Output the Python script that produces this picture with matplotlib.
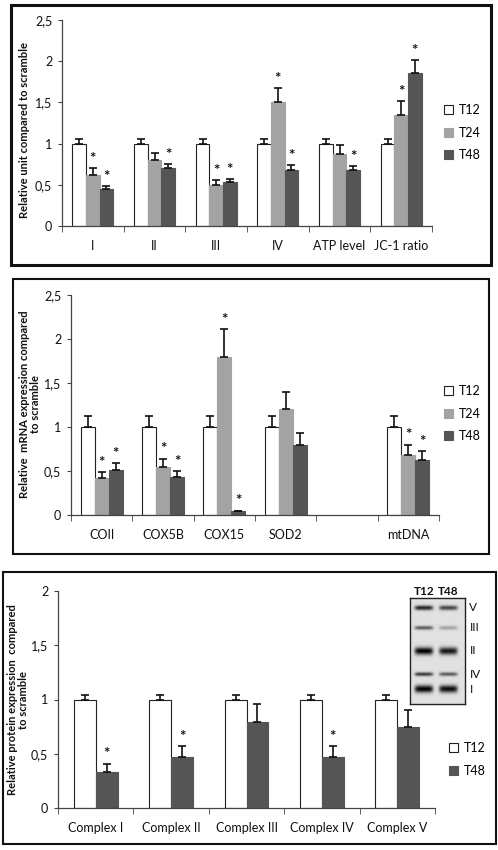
import numpy as np
import matplotlib
matplotlib.use("Agg")
import matplotlib.pyplot as plt
from matplotlib.patches import Rectangle, Patch
from matplotlib.ticker import FuncFormatter

plt.rcParams['font.family'] = ['Lato', 'DejaVu Sans']

W, H = 498, 850

# ---- panel 1 data: enzyme activities ----
p1_cats = ["I", "II", "III", "IV", "ATP level", "JC-1 ratio"]
p1_t12 = [1.0, 1.0, 1.0, 1.0, 1.0, 1.0]
p1_t12_err = [0.05, 0.05, 0.05, 0.05, 0.05, 0.05]
p1_t24 = [0.62, 0.80, 0.50, 1.50, 0.87, 1.35]
p1_t24_err = [0.08, 0.09, 0.06, 0.18, 0.11, 0.17]
p1_t48 = [0.45, 0.70, 0.53, 0.68, 0.68, 1.86]
p1_t48_err = [0.03, 0.05, 0.04, 0.06, 0.05, 0.15]
p1_t24_sig = [1, 0, 1, 1, 0, 1]
p1_t48_sig = [1, 1, 1, 1, 1, 1]

# ---- panel 2 data: mRNA expression ----
p2_cats = ["COII", "COX5B", "COX15", "SOD2", "", "mtDNA"]
p2_t12 = [1.0, 1.0, 1.0, 1.0, np.nan, 1.0]
p2_t12_err = [0.12, 0.12, 0.12, 0.12, 0, 0.12]
p2_t24 = [0.42, 0.55, 1.80, 1.20, np.nan, 0.68]
p2_t24_err = [0.07, 0.09, 0.31, 0.20, 0, 0.12]
p2_t48 = [0.51, 0.43, 0.04, 0.80, np.nan, 0.62]
p2_t48_err = [0.08, 0.07, 0.01, 0.13, 0, 0.11]
p2_t24_sig = [1, 1, 1, 0, 0, 1]
p2_t48_sig = [1, 1, 1, 0, 0, 1]

# ---- panel 3 data: protein expression ----
p3_cats = ["Complex I", "Complex II", "Complex III", "Complex IV", "Complex V"]
p3_t12 = [1.0, 1.0, 1.0, 1.0, 1.0]
p3_t12_err = [0.04, 0.04, 0.04, 0.04, 0.04]
p3_t48 = [0.33, 0.47, 0.79, 0.47, 0.75]
p3_t48_err = [0.08, 0.10, 0.17, 0.10, 0.15]
p3_t48_sig = [1, 1, 0, 1, 0]

# ---- western blot inset ----
blot_lanes = ["T12", "T48"]
blot_bands = ["V", "III", "II", "IV", "I"]
blot_band_pos = [0.09, 0.28, 0.50, 0.72, 0.86]      # fraction from top
blot_band_thick = [0.022, 0.018, 0.035, 0.018, 0.035]
blot_t12 = [0.85, 0.60, 1.00, 0.75, 1.00]
blot_t48 = [0.70, 0.28, 0.90, 0.60, 0.95]

C_T12 = "white"
C_T24 = "#a3a3a3"
C_T48 = "#555555"
AX_COL = "#444444"
TXT = "#111111"


def px_axes(fig, x0, y0, x1, y1):
    return fig.add_axes([x0 / W, 1 - y1 / H, (x1 - x0) / W, (y1 - y0) / H])


def comma_fmt(v, pos):
    return ("%g" % v).replace(".", ",")


def style_axes(ax, n, ymax, ystep=0.5):
    ax.set_xlim(-0.5, n - 0.5)
    ax.set_ylim(0, ymax)
    for s in ["top", "right"]:
        ax.spines[s].set_visible(False)
    for s in ["left", "bottom"]:
        ax.spines[s].set_color(AX_COL)
        ax.spines[s].set_linewidth(0.9)
    ax.set_yticks(np.arange(0, ymax + 0.001, ystep))
    ax.yaxis.set_major_formatter(FuncFormatter(comma_fmt))
    ax.tick_params(axis="y", length=3, color=AX_COL, labelsize=9, pad=4, labelcolor=TXT)
    ax.set_xticks(np.arange(n))
    ax.set_xticks(np.arange(n + 1) - 0.5, minor=True)
    ax.tick_params(axis="x", which="major", length=0, labelsize=9, pad=10, labelcolor=TXT)
    ax.tick_params(axis="x", which="minor", length=4, color=AX_COL)
    ax.patch.set_alpha(0)


def draw_series(ax, x, vals, errs, color, width, sig=None):
    vals = np.array(vals, dtype=float)
    errs = np.array(errs, dtype=float)
    ec = "#222222" if color == "white" else color
    ax.bar(x, vals, width, color=color, edgecolor=ec, linewidth=0.8, zorder=2)
    ok = ~np.isnan(vals)
    ax.errorbar(x[ok], vals[ok], yerr=[np.zeros(ok.sum()), errs[ok]], fmt="none",
                ecolor="#111111", elinewidth=1.2, capsize=3, capthick=1.2, zorder=3)
    if sig is not None:
        for xi, v, e, s in zip(x, vals, errs, sig):
            if s:
                ax.text(xi, v + e + 0.01 * ax.get_ylim()[1], "*", ha="center", va="bottom",
                        fontsize=11, fontweight="bold", color=TXT)


def panel_box(fig, x0, y0, x1, y1, lw):
    fig.patches.append(Rectangle((x0 / W, 1 - y1 / H), (x1 - x0) / W, (y1 - y0) / H,
                                 transform=fig.transFigure, fill=False,
                                 edgecolor="#111111", linewidth=lw))


def ylabel(fig, text, x, y):
    fig.text(x / W, 1 - y / H, text, rotation=90, ha="center", va="center",
             fontsize=8, fontweight="bold", color=TXT, linespacing=1.0)


def legend(fig, ax, labels, colors, x, y):
    handles = [Patch(facecolor=c, edgecolor="#222222" if c == "white" else c, linewidth=0.8)
               for c in colors]
    ax.legend(handles, labels, loc="upper left", bbox_to_anchor=(x / W, 1 - y / H),
              bbox_transform=fig.transFigure, frameon=False, fontsize=9,
              handlelength=0.75, handleheight=0.75, handletextpad=0.45, labelspacing=0.85,
              borderpad=0, borderaxespad=0)


fig = plt.figure(figsize=(W / 100, H / 100), dpi=100)

# ---------- panel 1 ----------
panel_box(fig, 11, 5, 491, 265, 2.2)
ax1 = px_axes(fig, 62, 20, 432, 226)
style_axes(ax1, len(p1_cats), 2.5)
x = np.arange(len(p1_cats))
bw = 0.22
draw_series(ax1, x - bw, p1_t12, p1_t12_err, C_T12, bw)
draw_series(ax1, x, p1_t24, p1_t24_err, C_T24, bw, p1_t24_sig)
draw_series(ax1, x + bw, p1_t48, p1_t48_err, C_T48, bw, p1_t48_sig)
ax1.set_xticklabels(p1_cats)
ylabel(fig, "Relative unit compared to scramble", 24, 130)
legend(fig, ax1, ["T12", "T24", "T48"], [C_T12, C_T24, C_T48], 444, 104)

# ---------- panel 2 ----------
panel_box(fig, 13, 279, 489, 554, 1.5)
ax2 = px_axes(fig, 71, 295, 439, 515)
style_axes(ax2, len(p2_cats), 2.5)
x = np.arange(len(p2_cats))
bw = 0.23
draw_series(ax2, x - bw, p2_t12, p2_t12_err, C_T12, bw)
draw_series(ax2, x, p2_t24, p2_t24_err, C_T24, bw, p2_t24_sig)
draw_series(ax2, x + bw, p2_t48, p2_t48_err, C_T48, bw, p2_t48_sig)
ax2.set_xticklabels(p2_cats)
ylabel(fig, "Relative  mRNA expression compared\nto scramble", 30, 404)
legend(fig, ax2, ["T12", "T24", "T48"], [C_T12, C_T24, C_T48], 444, 385)

# ---------- panel 3 ----------
panel_box(fig, 3, 572, 496, 844, 1.5)
ax3 = px_axes(fig, 58, 591, 435, 808)
style_axes(ax3, len(p3_cats), 2.0)
x = np.arange(len(p3_cats))
bw = 0.29
draw_series(ax3, x - bw / 2, p3_t12, p3_t12_err, C_T12, bw)
draw_series(ax3, x + bw / 2, p3_t48, p3_t48_err, C_T48, bw, p3_t48_sig)
ax3.set_xticklabels(p3_cats)
ylabel(fig, "Relative protein expression  compared\nto scramble", 18, 700)
legend(fig, ax3, ["T12", "T48"], [C_T12, C_T48], 449, 742)

# ---------- blot inset ----------
axb = px_axes(fig, 410, 598, 465, 704)
nrow, ncol = 160, 80
yy = np.linspace(0, 1, nrow)[:, None]
xx = np.linspace(0, 1, ncol)[None, :]
img = np.full((nrow, ncol), 0.88)
lane_cx = [0.25, 0.70]
for pos, th, a12, a48 in zip(blot_band_pos, blot_band_thick, blot_t12, blot_t48):
    for cx, amp in zip(lane_cx, [a12, a48]):
        prof_x = np.exp(-((xx - cx) / 0.17) ** 6)
        prof_y = np.exp(-((yy - pos) / th) ** 2)
        img -= 0.88 * amp * prof_x * prof_y
img = np.clip(img, 0, 1)
axb.imshow(img, cmap="gray", vmin=0, vmax=1, aspect="auto", extent=[0, 1, 1, 0],
           interpolation="bilinear")
axb.set_xticks([])
axb.set_yticks([])
for s in axb.spines.values():
    s.set_linewidth(1.0)
    s.set_color("#222222")
for cx, lab in zip(lane_cx, blot_lanes):
    axb.text(cx, 1.01, lab, transform=axb.transAxes, ha="center", va="bottom",
             fontsize=8.5, fontweight="bold", color=TXT)
for pos, lab in zip(blot_band_pos, blot_bands):
    axb.text(1.08, 1 - pos, lab, transform=axb.transAxes, ha="left", va="center",
             fontsize=8.5, color=TXT)

fig.savefig("out.png", dpi=100)
